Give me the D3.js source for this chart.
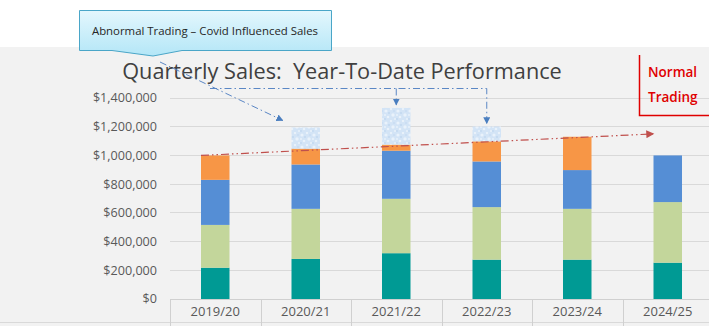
<!DOCTYPE html>
<html>
<head>
<meta charset="utf-8">
<script src="https://cdn.jsdelivr.net/npm/d3@7"></script>
<style>
  html, body { margin: 0; padding: 0; background: #ffffff; }
  svg { display: block; font-family: "Open Sans", "Noto Sans", sans-serif; }
</style>
</head>
<body>
<svg id="chart" width="709" height="326"></svg>
<script>
// Financial years shown on the x axis
const years = ["2019/20", "2020/21", "2021/22", "2022/23", "2023/24", "2024/25"];

// Quarterly year-to-date sales (stacked, Q1 at the bottom)
const q1 = [218000, 279000, 319000, 274000, 274000, 253000];
const q2 = [298000, 349000, 379000, 366000, 354000, 422000];
const q3 = [314000, 309000, 335000, 318000, 270000, 325000];
const q4 = [170000, 110000, 42000, 140000, 232000, 0];
// Sales attributed to Covid-driven abnormal trading
const covid = [0, 148000, 256000, 104000, 0, 0];

// Y axis ticks
const yTicks = [0, 200000, 400000, 600000, 800000, 1000000, 1200000, 1400000];

// Normal trading trend (first year to latest year)
const trendValues = [1000000, 1150000];

const seriesNames = ["q1", "q2", "q3", "q4", "covid"];
const seriesColors = {
  q1: "#009a94",
  q2: "#c3d69b",
  q3: "#558ed5",
  q4: "#f79646",
  covid: "#d3e4f6"
};

const rows = years.map((y, i) => ({ year: y, q1: q1[i], q2: q2[i], q3: q3[i], q4: q4[i], covid: covid[i] }));

const svg = d3.select("#chart");
const W = 709, H = 326;

// Plot area background
svg.append("rect").attr("x", 0).attr("y", 47).attr("width", W).attr("height", H - 47).attr("fill", "#f2f2f2");

const x = d3.scaleBand().domain(years).range([170, 713]).padding(0);
const y = d3.scaleLinear().domain([0, 1400000]).range([299, 98]);
const barW = x.bandwidth() * 0.315;
const barX = d => x(d) + (x.bandwidth() - barW) / 2;

// Mottled texture for the Covid segments
const defs = svg.append("defs");
const pat = defs.append("pattern").attr("id", "mottle").attr("patternUnits", "userSpaceOnUse")
  .attr("width", 12).attr("height", 12);
pat.append("rect").attr("width", 12).attr("height", 12).attr("fill", seriesColors.covid);
[[2, 3, 1.6], [7, 1, 1.2], [9, 7, 1.7], [4, 9, 1.3], [11, 11, 1], [1, 7, 1]].forEach(c => {
  pat.append("circle").attr("cx", c[0]).attr("cy", c[1]).attr("r", c[2]).attr("fill", "#e9f2fb");
});
[[5, 5, 1], [10, 3, 0.8], [1, 11, 0.9]].forEach(c => {
  pat.append("circle").attr("cx", c[0]).attr("cy", c[1]).attr("r", c[2]).attr("fill", "#c2d8f0");
});

// Arrow markers
defs.append("marker").attr("id", "arrBlue").attr("viewBox", "0 0 10 10").attr("refX", 9).attr("refY", 5)
  .attr("markerWidth", 7).attr("markerHeight", 7).attr("markerUnits", "userSpaceOnUse").attr("orient", "auto")
  .append("path").attr("d", "M0,0 L10,5 L0,10 z").attr("fill", "#4a7ebf");
defs.append("marker").attr("id", "arrRed").attr("viewBox", "0 0 10 10").attr("refX", 9).attr("refY", 5)
  .attr("markerWidth", 11).attr("markerHeight", 8).attr("markerUnits", "userSpaceOnUse").attr("orient", "auto")
  .append("path").attr("d", "M0,0 L10,5 L0,10 z").attr("fill", "#c0504d");

// Gridlines
svg.append("g").selectAll("line").data(yTicks.filter(t => t > 0)).join("line")
  .attr("x1", 170).attr("x2", W).attr("y1", d => y(d)).attr("y2", d => y(d))
  .attr("stroke", "#d9d9d9").attr("stroke-width", 1).attr("shape-rendering", "crispEdges");

// Y axis labels
const fmt = d => "$" + d3.format(",")(d);
svg.append("g").selectAll("text").data(yTicks).join("text")
  .attr("x", 157).attr("y", d => y(d)).attr("dy", "0.35em").attr("text-anchor", "end")
  .attr("font-size", 12.6).attr("fill", "#595959").text(fmt);

// Stacked bars
const stack = d3.stack().keys(seriesNames)(rows);
const layers = svg.append("g").selectAll("g").data(stack).join("g")
  .attr("fill", d => d.key === "covid" ? "url(#mottle)" : seriesColors[d.key]);
layers.selectAll("rect").data(d => d.filter(p => p[1] - p[0] > 0)).join("rect")
  .attr("x", d => barX(d.data.year)).attr("width", barW)
  .attr("y", d => y(d[1])).attr("height", d => y(d[0]) - y(d[1]));

// X axis: baseline, category separators and labels
svg.append("line").attr("x1", 170).attr("x2", W).attr("y1", 299.5).attr("y2", 299.5).attr("stroke", "#d0d0d0");
svg.append("line").attr("x1", 0).attr("x2", W).attr("y1", 322.5).attr("y2", 322.5).attr("stroke", "#d9d9d9");
svg.append("g").selectAll("line").data(years).join("line")
  .attr("x1", d => Math.round(x(d)) + 0.5).attr("x2", d => Math.round(x(d)) + 0.5)
  .attr("y1", 299).attr("y2", H).attr("stroke", "#d0d0d0");
svg.append("g").selectAll("text").data(years).join("text")
  .attr("x", d => x(d) + x.bandwidth() / 2).attr("y", 316).attr("text-anchor", "middle")
  .attr("font-size", 13).attr("fill", "#595959").text(d => d);

// Normal trading trend arrow
svg.append("line")
  .attr("x1", barX(years[0])).attr("y1", y(trendValues[0]))
  .attr("x2", barX(years[years.length - 1])).attr("y2", y(trendValues[1]))
  .attr("stroke", "#c0504d").attr("stroke-width", 1.2).attr("stroke-dasharray", "8,3,1.5,3,1.5,3")
  .attr("marker-end", "url(#arrRed)");

// Title
svg.append("text").attr("x", 342).attr("y", 79).attr("text-anchor", "middle")
  .attr("font-size", 21.7).attr("fill", "#404040").attr("font-weight", 400)
  .attr("xml:space", "preserve").style("white-space", "pre")
  .text("Quarterly Sales:  Year-To-Date Performance");

// Callout connectors to the Covid-affected years
const cx = i => x(years[i]) + x.bandwidth() / 2;
const covidTop = i => y(q1[i] + q2[i] + q3[i] + q4[i] + covid[i]);
const blueLine = g => g.attr("fill", "none").attr("stroke", "#5b87c5").attr("stroke-width", 1)
  .attr("stroke-dasharray", "7,3,1.5,3");
svg.append("line").call(blueLine).attr("x1", 160).attr("y1", 62).attr("x2", cx(1) - 23).attr("y2", covidTop(1) - 7)
  .attr("marker-end", "url(#arrBlue)");
svg.append("path").call(blueLine)
  .attr("d", `M210,88.5 H${cx(3)} V${covidTop(3) - 3}`).attr("marker-end", "url(#arrBlue)");
svg.append("line").call(blueLine).attr("x1", cx(2)).attr("y1", 88.5).attr("x2", cx(2)).attr("y2", covidTop(2) - 3)
  .attr("marker-end", "url(#arrBlue)");

// Callout box
const grad = defs.append("linearGradient").attr("id", "calloutFill").attr("x1", 0).attr("y1", 0).attr("x2", 0).attr("y2", 1);
grad.append("stop").attr("offset", "0%").attr("stop-color", "#e4f7fd");
grad.append("stop").attr("offset", "100%").attr("stop-color", "#b3e6f7");
svg.append("path")
  .attr("d", "M79.5,10.5 H331.5 V50.5 H182 L153,56 L112,50.5 H79.5 Z")
  .attr("fill", "url(#calloutFill)").attr("stroke", "#4aa6c8").attr("stroke-width", 1);
svg.append("text").attr("x", 205).attr("y", 35).attr("text-anchor", "middle")
  .attr("font-size", 11.4).attr("fill", "#262626").text("Abnormal Trading – Covid Influenced Sales");

// Normal trading label
svg.append("path").attr("d", "M639.5,55 V115.5 H709").attr("fill", "none").attr("stroke", "#e00000").attr("stroke-width", 1.5);
svg.append("text").attr("x", 648).attr("y", 77).attr("font-size", 13.5).attr("font-weight", 600)
  .attr("fill", "#e00000").text("Normal");
svg.append("text").attr("x", 648).attr("y", 102).attr("font-size", 13.5).attr("font-weight", 600)
  .attr("fill", "#e00000").text("Trading");
</script>
</body>
</html>
